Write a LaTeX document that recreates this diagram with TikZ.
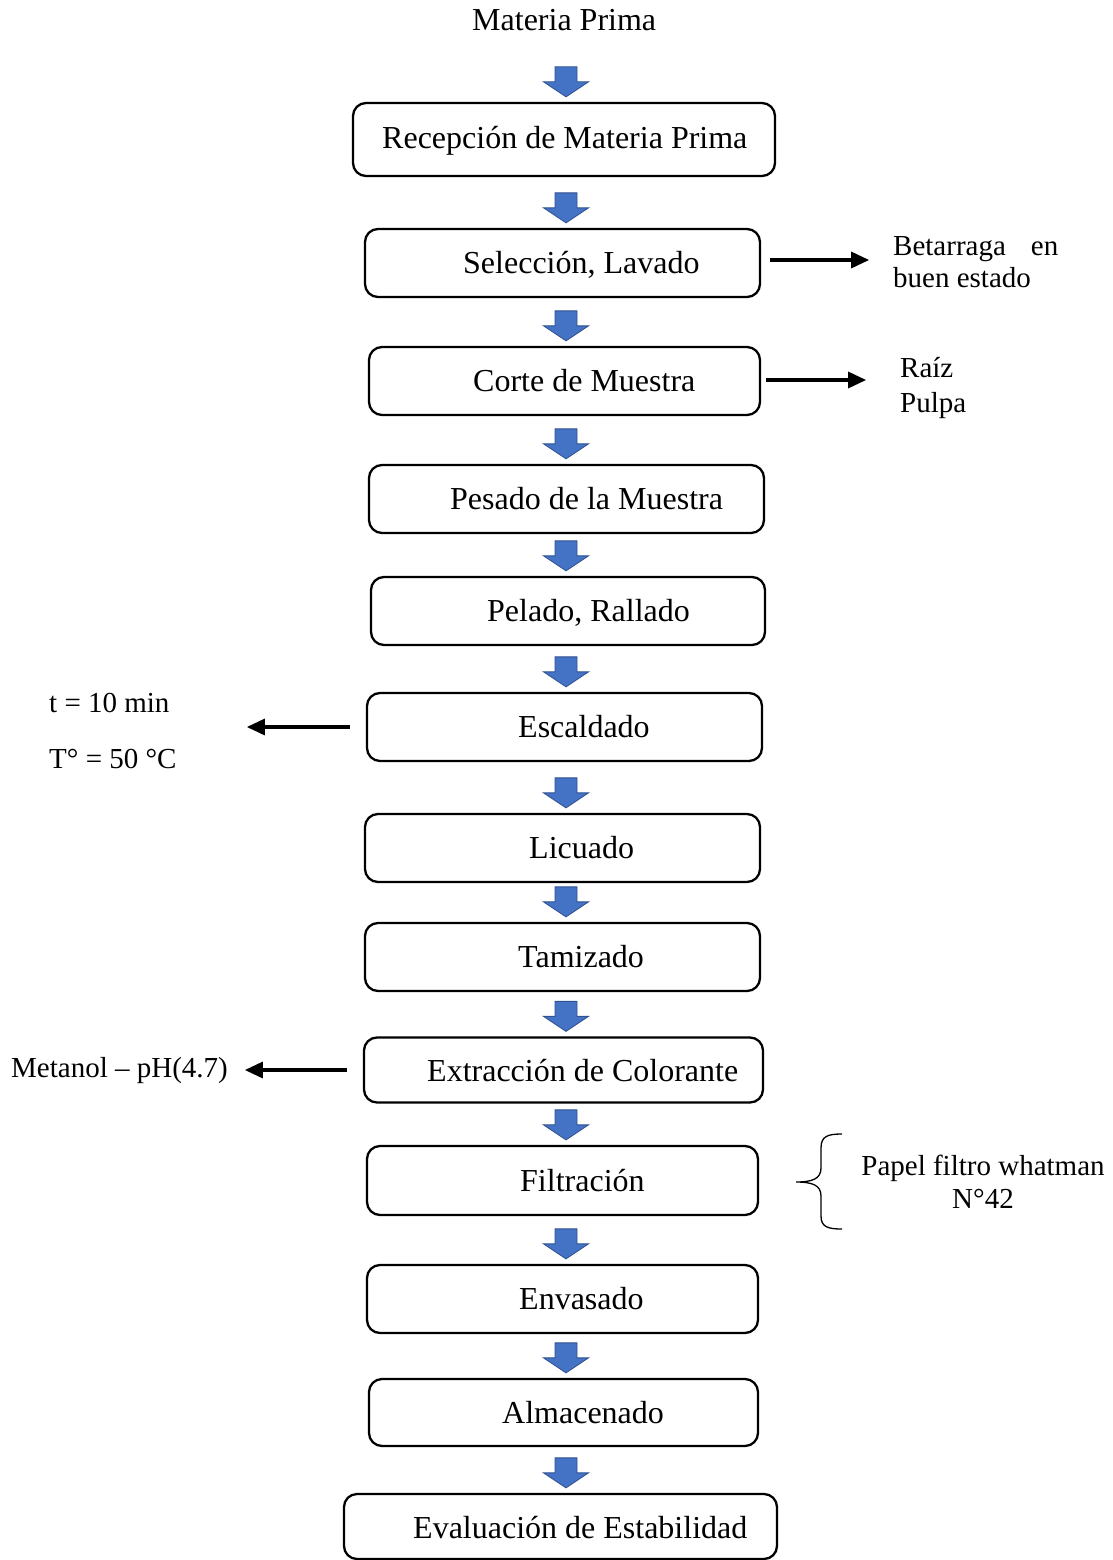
\documentclass[tikz,border=0pt]{standalone}
\usepackage{fontspec}
\setmainfont{Liberation Serif}
\usetikzlibrary{arrows.meta}
\definecolor{flowblue}{HTML}{4472C4}
\definecolor{flowblueedge}{HTML}{2F528F}
\begin{document}
\begin{tikzpicture}[x=1pt,y=-1pt,
  stepbox/.style={draw, line width=2.3pt, rounded corners=13pt, inner sep=0pt},
  steptext/.style={font=\fontsize{32}{38}\selectfont, inner sep=0pt, anchor=base west},
  sidetext/.style={font=\fontsize{29}{34}\selectfont, inner sep=0pt, anchor=base west},
  sidearrow/.style={line width=3.2pt, -{Triangle[length=18pt,width=16pt]}},
  downarrow/.pic={\path[draw=flowblueedge, line width=0.8pt, fill=flowblue, line join=miter]
      (-11,-30) -- (11,-30) -- (11,-15) -- (22.5,-15) -- (0,0) -- (-22.5,-15) -- (-11,-15) -- cycle;}]
\useasboundingbox (0,0) rectangle (1113,1560);

% process steps
\node[stepbox, minimum width=422pt, minimum height=73pt] (b1)  at (564,139.5)  {};
\node[stepbox, minimum width=395pt, minimum height=68pt] (b2)  at (562.5,263)  {};
\node[stepbox, minimum width=391pt, minimum height=68pt] (b3)  at (564.5,381)  {};
\node[stepbox, minimum width=395pt, minimum height=68pt] (b4)  at (566.5,499)  {};
\node[stepbox, minimum width=394pt, minimum height=68pt] (b5)  at (568,611)    {};
\node[stepbox, minimum width=395pt, minimum height=68pt] (b6)  at (564.5,727)  {};
\node[stepbox, minimum width=395pt, minimum height=68pt] (b7)  at (562.5,848)  {};
\node[stepbox, minimum width=395pt, minimum height=68pt] (b8)  at (562.5,957)  {};
\node[stepbox, minimum width=399pt, minimum height=65pt] (b9)  at (563.5,1070) {};
\node[stepbox, minimum width=391pt, minimum height=69pt] (b10) at (562.5,1180.5) {};
\node[stepbox, minimum width=391pt, minimum height=68pt] (b11) at (562.5,1299) {};
\node[stepbox, minimum width=389pt, minimum height=67pt] (b12) at (563.5,1412.5) {};
\node[stepbox, minimum width=433pt, minimum height=65pt] (b13) at (560.5,1526.5) {};

% step labels
\node[steptext] (t0)  at (472,31)   {Materia Prima};
\node[steptext] (t1)  at (382,149)  {Recepción de Materia Prima};
\node[steptext] (t2)  at (463,273)  {Selección, Lavado};
\node[steptext] (t3)  at (473,391)  {Corte de Muestra};
\node[steptext] (t4)  at (450,509)  {Pesado de la Muestra};
\node[steptext] (t5)  at (487,621)  {Pelado, Rallado};
\node[steptext] (t6)  at (518,737)  {Escaldado};
\node[steptext] (t7)  at (529,858)  {Licuado};
\node[steptext] (t8)  at (518,967)  {Tamizado};
\node[steptext] (t9)  at (427,1081) {Extracción de Colorante};
\node[steptext] (t10) at (520,1191) {Filtración};
\node[steptext] (t11) at (519,1309) {Envasado};
\node[steptext] (t12) at (502,1423) {Almacenado};
\node[steptext] (t13) at (413,1538) {Evaluación de Estabilidad};

% block arrows between the steps
\coordinate (ax) at (566,0);
\foreach \n in {b1,b2,b3,b4,b5,b6,b7,b8,b9,b10,b11,b12,b13}
  \pic[yshift=5pt] at (ax |- \n.north) {downarrow};

% side notes
\node[sidetext] (n1a) at (893,255) {Betarraga\hspace{25pt}en};
\node[sidetext] (n1b) at (893,287) {buen estado};
\node[sidetext] (n2a) at (900,377) {Raíz};
\node[sidetext] (n2b) at (900,412) {Pulpa};
\node[sidetext] (n3a) at (49,712)  {t = 10 min};
\node[sidetext] (n3b) at (49,768)  {T° = 50 °C};
\node[sidetext] (n4)  at (11,1077) {Metanol – pH(4.7)};
\node[sidetext, anchor=base] (n5a) at (983,1175) {Papel filtro whatman};
\node[sidetext, anchor=base] (n5b) at (983,1208) {N°42};

% thin arrows pointing to the side notes
\coordinate (s1) at ([xshift=9pt,yshift=3pt]b2.east);
\coordinate (s2) at ([xshift=5pt,yshift=1pt]b3.east);
\coordinate (s3) at ([xshift=-16pt]b6.west);
\coordinate (s4) at ([xshift=-16pt]b9.west);
\coordinate (e1) at ([xshift=99pt]s1);
\coordinate (e2) at ([xshift=100pt]s2);
\coordinate (e3) at ([xshift=-103pt]s3);
\coordinate (e4) at ([xshift=-102pt]s4);
\draw[sidearrow] (s1) -- (e1);
\draw[sidearrow] (s2) -- (e2);
\draw[sidearrow] (s3) -- (e3);
\draw[sidearrow] (s4) -- (e4);

% brace beside the filtration step
\draw[line width=1.3pt]
  (842,1134) .. controls (828,1134) and (821,1136) .. (821,1148) -- (821,1168)
  .. controls (821,1179) and (812,1182) .. (796,1182)
  .. controls (812,1182) and (821,1185) .. (821,1196) -- (821,1216)
  .. controls (821,1227) and (828,1229) .. (842,1229);
\end{tikzpicture}
\end{document}
